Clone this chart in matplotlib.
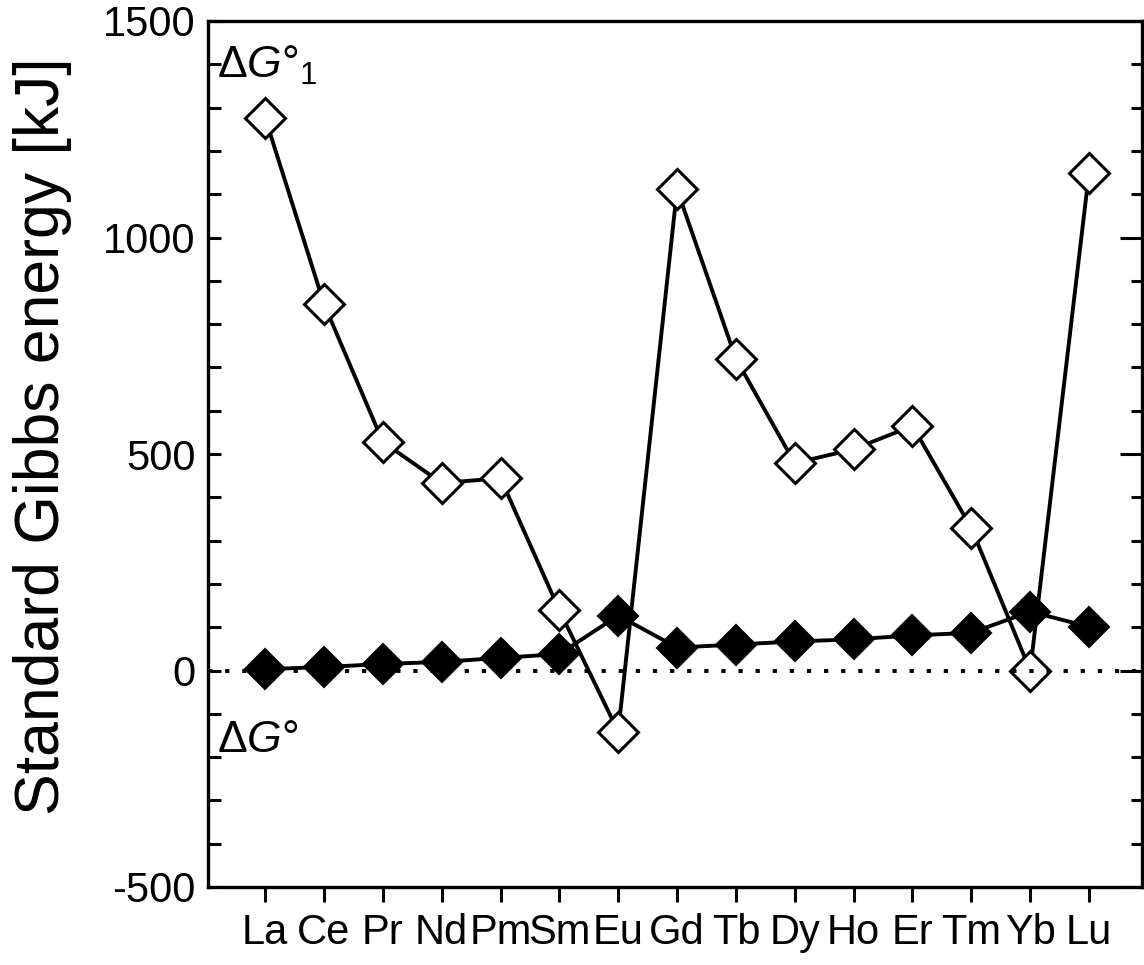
import matplotlib
matplotlib.use('Agg')
import matplotlib.pyplot as plt
from matplotlib.ticker import MultipleLocator

plt.rcParams['font.family'] = ['Liberation Sans', 'DejaVu Sans']
plt.rcParams['mathtext.fontset'] = 'custom'
plt.rcParams['mathtext.rm'] = 'Liberation Sans'
plt.rcParams['mathtext.it'] = 'Liberation Sans:italic'
plt.rcParams['axes.unicode_minus'] = False

# lanthanides, La..Lu
elements = ['La', 'Ce', 'Pr', 'Nd', 'Pm', 'Sm', 'Eu', 'Gd', 'Tb', 'Dy', 'Ho', 'Er', 'Tm', 'Yb', 'Lu']
# dG1 (open diamonds) and dG (filled diamonds), kJ
dG1 = [1277, 847, 528, 433, 444, 139, -141, 1111, 720, 479, 511, 565, 329, 0, 1150]
dG = [3, 8, 15, 20, 29, 38, 127, 53, 60, 67, 72, 81, 87, 136, 101]

xpos = list(range(1, len(elements) + 1))

fig = plt.figure(figsize=(11.44, 9.65), dpi=100)
ax = fig.add_axes([208/1144, 1 - 887/965, (1142 - 208)/1144, (887 - 21)/965])

ax.plot(xpos, dG, '-', color='black', lw=2.8, marker='D', ms=20,
        mfc='black', mec='black', mew=1.5, zorder=2)
ax.plot(xpos, dG1, '-', color='black', lw=2.8, marker='D', ms=20,
        mfc='white', mec='black', mew=2.2, zorder=3)
ax.axhline(0, color='black', lw=2.8, dashes=(1.1, 3.3), zorder=4)

ax.set_xlim(0.03, 15.9)
ax.set_ylim(-500, 1500)
ax.set_xticks(xpos)
ax.set_xticklabels(elements)
ax.yaxis.set_major_locator(MultipleLocator(500))
ax.yaxis.set_minor_locator(MultipleLocator(100))

for s in ax.spines.values():
    s.set_linewidth(2.4)

ax.tick_params(axis='x', direction='out', length=11, width=2.2, pad=8,
               labelsize=30, top=False)
ax.tick_params(axis='y', which='both', direction='in', length=9, width=2.2,
               pad=9, labelsize=30, right=False)

# right side ticks: longer majors
ax2 = ax.twinx()
ax2.set_ylim(ax.get_ylim())
ax2.yaxis.set_major_locator(MultipleLocator(500))
ax2.yaxis.set_minor_locator(MultipleLocator(100))
ax2.tick_params(axis='y', which='major', direction='in', length=16, width=2.2, labelright=False)
ax2.tick_params(axis='y', which='minor', direction='in', length=8, width=2.2)

ax.set_ylabel('Standard Gibbs energy [kJ]', fontsize=45)
ax.yaxis.set_label_coords(-0.146, 0.52)

ax.text(0.18, 1368, r'$\Delta\mathit{G}$°$_{1}$', fontsize=32, ha='left', va='baseline')
ax.text(0.18, -188, r'$\Delta\mathit{G}$°', fontsize=32, ha='left', va='baseline')

fig.savefig('out.png', dpi=100)
